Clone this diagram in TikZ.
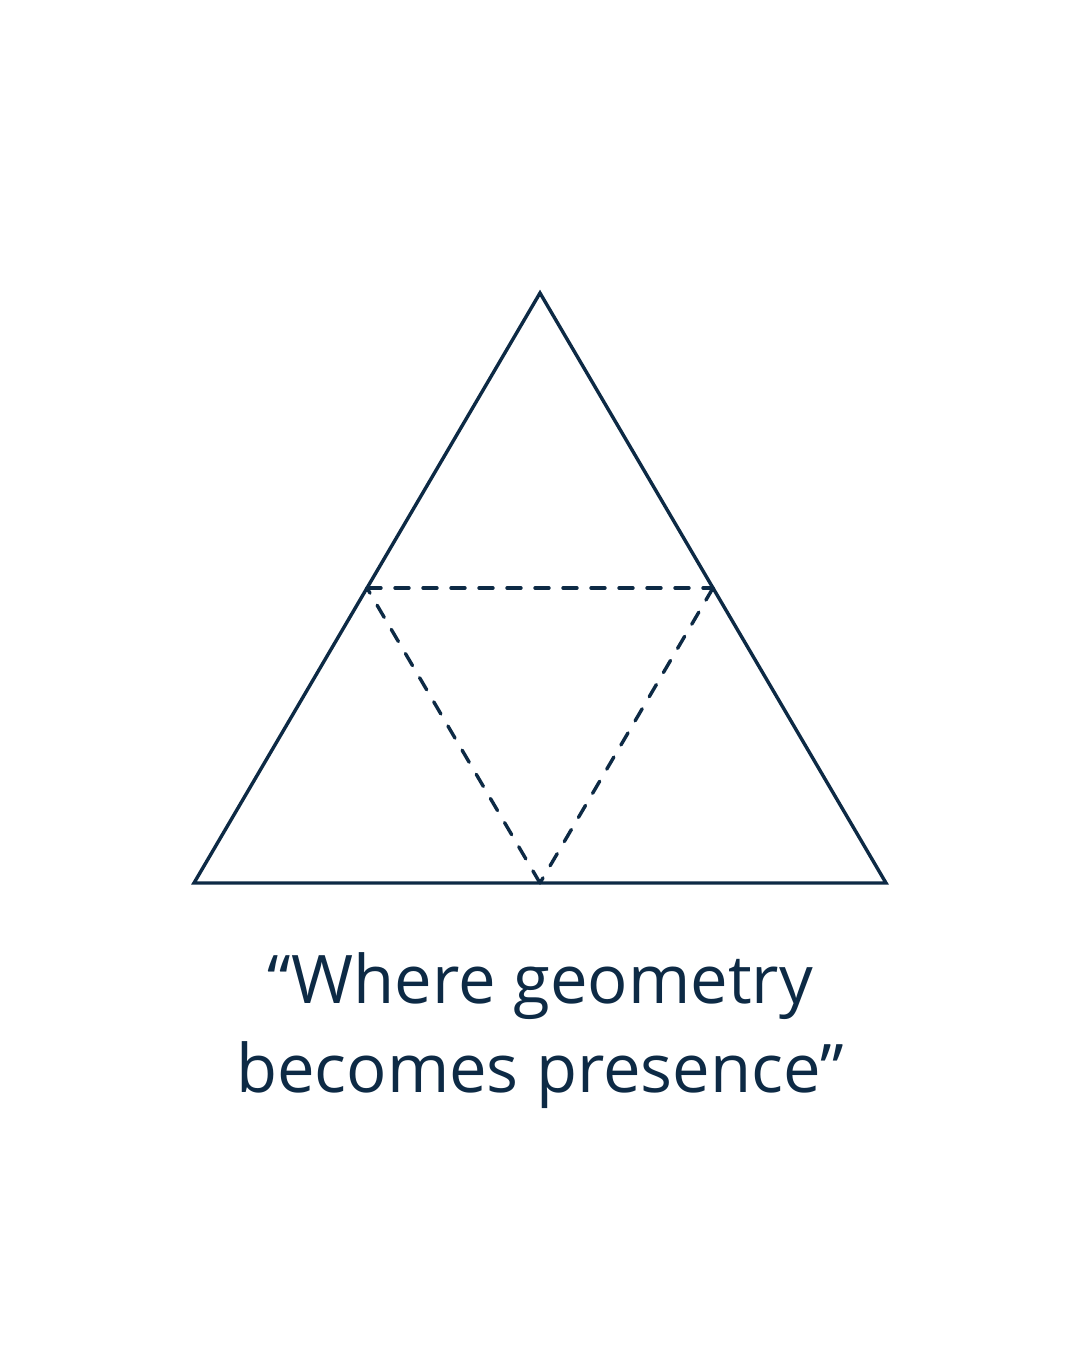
\documentclass[tikz,border=0pt]{standalone}
\usepackage{fontspec}
\newfontfamily\quotefont{Open Sans}
\definecolor{ink}{HTML}{0D2A45}
\begin{document}
\begin{tikzpicture}[x=1pt,y=-1pt,
  solidline/.style={draw=ink,line width=3.4pt,line join=miter},
  dashline/.style={draw=ink,line width=3.4pt,dash pattern=on 14pt off 14pt,line cap=round},
  quote/.style={text=ink,font=\quotefont\fontsize{67}{89}\selectfont,align=center,inner sep=0pt}]
\useasboundingbox[fill=white] (0,0) rectangle (1080,1350);
\coordinate (A) at (540,293);
\coordinate (B) at (194,883);
\coordinate (C) at (886,883);
\coordinate (AB) at (367,588);
\coordinate (AC) at (713,588);
\coordinate (BC) at (540,883);
\draw[dashline] (AB) -- (AC);
\draw[dashline] (AC) -- (BC);
\draw[dashline] (BC) -- (AB);
\draw[solidline] (A) -- (B) -- (C) -- cycle;
\node[quote,anchor=base] (q) at (540,1092) {“Where geometry\\becomes presence”};
\end{tikzpicture}
\end{document}
